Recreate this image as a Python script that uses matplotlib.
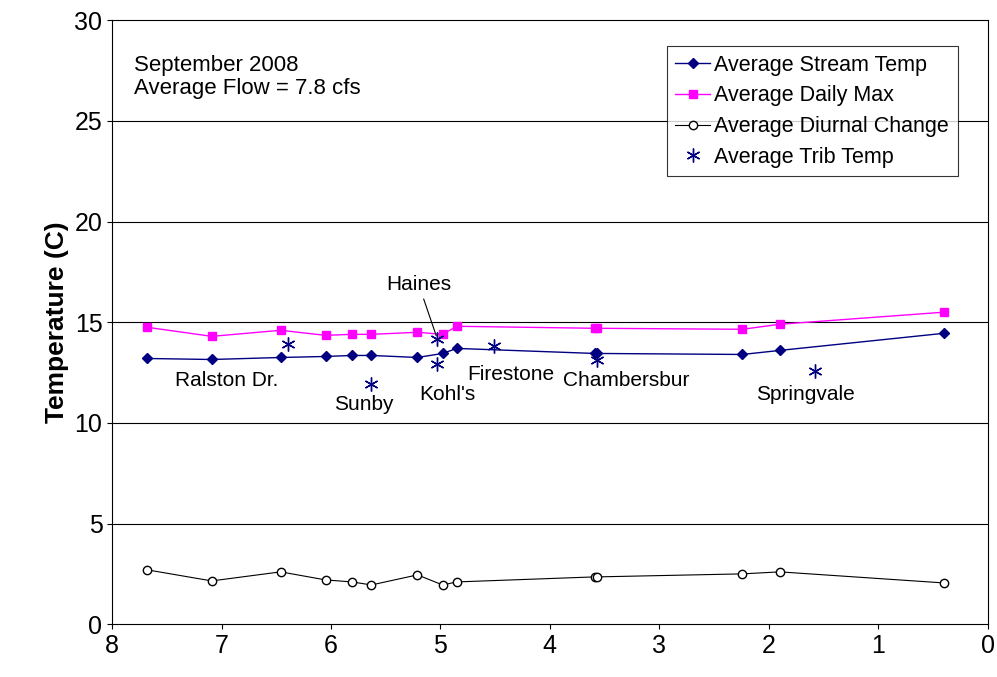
import matplotlib
matplotlib.use("Agg")
import matplotlib.pyplot as plt

plt.rcParams['font.family'] = ['Liberation Sans', 'DejaVu Sans']

x_main = [7.68, 7.09, 6.46, 6.05, 5.81, 5.63, 5.21, 4.98, 4.85, 3.59, 3.57, 2.24, 1.90, 0.40]
stream = [13.2, 13.15, 13.25, 13.3, 13.35, 13.35, 13.25, 13.45, 13.7, 13.45, 13.45, 13.4, 13.6, 14.45]
daily_max = [14.75, 14.3, 14.6, 14.35, 14.4, 14.4, 14.5, 14.4, 14.8, 14.7, 14.7, 14.65, 14.9, 15.5]
diurnal = [2.7, 2.15, 2.6, 2.2, 2.1, 1.95, 2.45, 1.95, 2.1, 2.35, 2.35, 2.5, 2.6, 2.05]
trib_x = [6.39, 5.63, 5.03, 5.03, 4.51, 3.57, 1.58]
trib_y = [13.9, 11.95, 14.15, 12.95, 13.8, 13.1, 12.6]

fig = plt.figure(figsize=(9.97, 6.77), dpi=100)
ax = fig.add_axes([0.1125, 0.078, 0.878, 0.892])
for v in range(5, 30, 5):
    ax.axhline(v, color='black', lw=0.8, zorder=0)
ax.plot(x_main, stream, color='#000080', marker='D', ms=5, lw=1, label='Average Stream Temp')
ax.plot(x_main, daily_max, color='#FF00FF', marker='s', ms=6, lw=1, label='Average Daily Max')
ax.plot(x_main, diurnal, color='black', marker='o', ms=6, mfc='white', lw=0.8, label='Average Diurnal Change')
ax.plot(trib_x, trib_y, ls='none', marker=(6, 2, 0), ms=10, mec='#000080', mew=1, label='Average Trib Temp')

ax.set_xlim(8, 0)
ax.set_ylim(0, 30)
ax.set_xticks(range(8, -1, -1))
ax.set_yticks(range(0, 31, 5))
ax.tick_params(labelsize=18, direction='out')
ax.set_ylabel('Temperature (C)', fontsize=19, fontweight='bold')

fs = 15
ax.text(6.95, 12.1, 'Ralston Dr.', fontsize=fs, ha='center', va='center')
ax.text(5.70, 10.9, 'Sunby', fontsize=fs, ha='center', va='center')
ax.text(4.94, 11.4, "Kohl's", fontsize=fs, ha='center', va='center')
ax.text(4.36, 12.4, 'Firestone', fontsize=fs, ha='center', va='center')
ax.text(3.30, 12.1, 'Chambersbur', fontsize=fs, ha='center', va='center')
ax.text(1.66, 11.4, 'Springvale', fontsize=fs, ha='center', va='center')
ax.annotate('Haines', xy=(5.03, 14.2), xytext=(5.2, 16.9), fontsize=fs, ha='center', va='center',
            arrowprops=dict(arrowstyle='-', color='black', lw=0.8))
ax.text(7.80, 28.3, 'September 2008\nAverage Flow = 7.8 cfs', fontsize=16, ha='left', va='top', linespacing=1.15)
leg = ax.legend(loc='upper right', bbox_to_anchor=(0.978, 0.975), fontsize=15.5, frameon=True,
                fancybox=False, edgecolor='black', borderpad=0.4, handlelength=1.6, handletextpad=0.2,
                labelspacing=0.45)
leg.get_frame().set_linewidth(0.8)
fig.savefig('out.png', dpi=100)
